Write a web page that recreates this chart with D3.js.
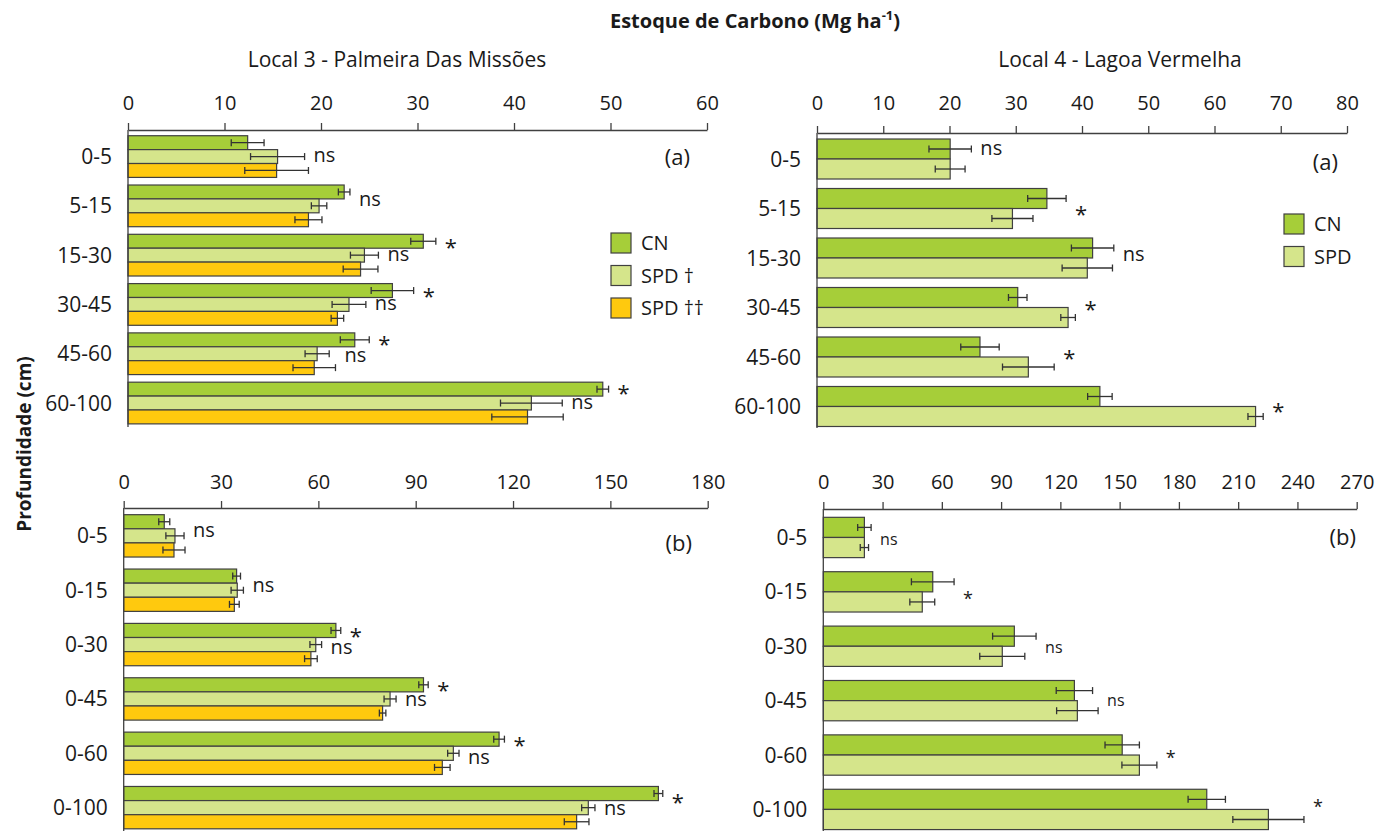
<!DOCTYPE html>
<html>
<head>
<meta charset="utf-8">
<script src="https://cdn.jsdelivr.net/npm/d3@7"></script>
<style>
  body { margin: 0; background: #fff; }
  text { font-family: "Open Sans", sans-serif; fill: #1a1a1a; }
</style>
</head>
<body>
<svg id="chart" width="1381" height="831"></svg>
<script>
// profundidades
const depthA = ["0-5", "5-15", "15-30", "30-45", "45-60", "60-100"];
const depthB = ["0-5", "0-15", "0-30", "0-45", "0-60", "0-100"];

const ticksL3a = [0, 10, 20, 30, 40, 50, 60];
const ticksL4a = [0, 10, 20, 30, 40, 50, 60, 70, 80];
const ticksL3b = [0, 30, 60, 90, 120, 150, 180];
const ticksL4b = [0, 30, 60, 90, 120, 150, 180, 210, 240, 270];

const seriesL3 = ["CN", "SPD \u2020", "SPD \u2020\u2020"];
const seriesL4 = ["CN", "SPD"];
const colors = ["#a6ce39", "#d5e58b", "#ffc90e"];

// Local 3 (a) - por camada
const l3aCN = [12.4, 22.4, 30.6, 27.4, 23.5, 49.2];
const l3aCNerr = [1.7, 0.6, 1.3, 2.2, 1.5, 0.6];
const l3aSPD1 = [15.5, 19.8, 24.5, 22.9, 19.6, 41.8];
const l3aSPD1err = [2.8, 0.8, 1.45, 1.75, 1.25, 3.2];
const l3aSPD2 = [15.4, 18.7, 24.1, 21.7, 19.3, 41.4];
const l3aSPD2err = [3.3, 1.4, 1.8, 0.65, 2.2, 3.7];
const l3aSig = [[[1, "ns"]], [[0.6, "ns"]], [[0, "*"], [1, "ns"]], [[0, "*"], [1, "ns"]], [[-0.1, "*"], [1.2, "ns"]], [[-0.1, "*"], [1, "ns"]]];

// Local 4 (a)
const l4aCN = [20.1, 34.7, 41.6, 30.3, 24.6, 42.7];
const l4aCNerr = [3.2, 2.9, 3.2, 1.4, 2.9, 1.85];
const l4aSPD = [20.1, 29.5, 40.8, 37.9, 31.9, 66.2];
const l4aSPDerr = [2.25, 3.1, 3.8, 1.1, 3.9, 1.15];
const l4aSig = [[[0, "ns"]], [[0.5, "*"]], [[0.35, "ns"]], [[0.3, "*"]], [[0.25, "*"]], [[0.45, "*"]]];

// Local 3 (b) - acumulado
const l3bCN = [12.5, 34.8, 65.4, 92.4, 115.7, 164.8];
const l3bCNerr = [1.7, 1.2, 1.5, 1.45, 1.65, 1.35];
const l3bSPD1 = [15.8, 35.0, 59.2, 82.1, 101.6, 143.2];
const l3bSPD1err = [2.8, 1.9, 1.8, 1.85, 1.75, 2.05];
const l3bSPD2 = [15.5, 34.1, 57.7, 79.8, 98.2, 139.6];
const l3bSPD2err = [3.4, 1.5, 1.95, 1.0, 2.4, 3.8];
const l3bSig = [[[0.7, "ns"]], [[0.75, "ns"]], [[0, "*"], [1.25, "ns"]], [[0, "*"], [1.1, "ns"]], [[0, "*"], [1.35, "ns"]], [[0.2, "*"], [1.1, "ns"]]];

// Local 4 (b)
const l4bCN = [20.8, 55.4, 96.7, 127.1, 151.3, 194.1];
const l4bCNerr = [3.4, 10.8, 11, 9.2, 8.7, 9.45];
const l4bSPD = [20.8, 50.1, 90.6, 128.6, 160.0, 225.3];
const l4bSPDerr = [2.1, 6.3, 11.4, 10.5, 8.85, 18];
const l4bSig = [[[0.65, "ns"]], [[0.6, "*"]], [[0.6, "ns"]], [[0.55, "ns"]], [[0.4, "*"]], [[0.1, "*"]]];

const svg = d3.select("#chart");

const panels = [
  { cats: depthA, ticks: ticksL3a, names: seriesL3,
    values: [l3aCN, l3aSPD1, l3aSPD2], errs: [l3aCNerr, l3aSPD1err, l3aSPD2err], sig: l3aSig,
    xr: [128, 707], axisY: 130, yr: [130, 429.6], pi: 0.154, po: 0.116, yEnd: 427, pad: 13,
    tag: "(a)", tagX: 690, tagY: 157, sigSize: 20,
    legend: { x: 611, y: 233 } },
  { cats: depthA, ticks: ticksL4a, names: seriesL4,
    values: [l4aCN, l4aSPD], errs: [l4aCNerr, l4aSPDerr], sig: l4aSig,
    xr: [817, 1347], axisY: 133, yr: [135, 430.5], pi: 0.192, po: 0.081, yEnd: 428, pad: 16,
    tag: "(a)", tagX: 1338, tagY: 162, sigSize: 20,
    legend: { x: 1284, y: 214 } },
  { cats: depthB, ticks: ticksL3b, names: seriesL3,
    values: [l3bCN, l3bSPD1, l3bSPD2], errs: [l3bCNerr, l3bSPD1err, l3bSPD2err], sig: l3bSig,
    xr: [123.7, 707.7], axisY: 508, yr: [508, 835.5], pi: 0.221, po: 0.123, yEnd: 831, pad: 12.5,
    tag: "(b)", tagX: 692, tagY: 543, sigSize: 20 },
  { cats: depthB, ticks: ticksL4b, names: seriesL4,
    values: [l4bCN, l4bSPD], errs: [l4bCNerr, l4bSPDerr], sig: l4bSig,
    xr: [823.3, 1356.7], axisY: 509, yr: [509, 837.9], pi: 0.259, po: 0.153, yEnd: 831, pad: 13,
    tag: "(b)", tagX: 1356, tagY: 537, sigSize: 16 }
];

function drawPanel(p) {
  const g = svg.append("g");
  const x = d3.scaleLinear().domain([p.ticks[0], p.ticks[p.ticks.length - 1]]).range(p.xr);
  const y = d3.scaleBand().domain(p.cats).range(p.yr).paddingInner(p.pi).paddingOuter(p.po);
  const inner = d3.scaleBand().domain(d3.range(p.names.length)).range([0, y.bandwidth()]);

  const rows = [];
  p.cats.forEach((c, i) => {
    p.values.forEach((vals, s) => rows.push({ cat: c, s: s, v: vals[i], e: p.errs[s][i] }));
  });

  g.selectAll(".bar").data(rows).enter().append("rect")
    .attr("class", "bar")
    .attr("x", x(0))
    .attr("y", d => y(d.cat) + inner(d.s))
    .attr("width", d => x(d.v) - x(0))
    .attr("height", inner.bandwidth())
    .attr("fill", d => colors[d.s])
    .attr("stroke", "#404040")
    .attr("stroke-width", 1.2);

  const eb = g.selectAll(".err").data(rows).enter().append("g")
    .attr("class", "err")
    .attr("transform", d => `translate(0,${y(d.cat) + inner(d.s) + inner.bandwidth() / 2})`)
    .attr("stroke", "#333")
    .attr("stroke-width", 1.3);
  eb.append("line").attr("x1", d => x(d.v - d.e)).attr("x2", d => x(d.v + d.e));
  eb.append("line").attr("x1", d => x(d.v - d.e)).attr("x2", d => x(d.v - d.e)).attr("y1", -3.5).attr("y2", 3.5);
  eb.append("line").attr("x1", d => x(d.v + d.e)).attr("x2", d => x(d.v + d.e)).attr("y1", -3.5).attr("y2", 3.5);

  // eixo superior
  const ax = g.append("g")
    .attr("transform", `translate(0,${p.axisY})`)
    .call(d3.axisTop(x).tickValues(p.ticks).tickSizeInner(7).tickSizeOuter(0).tickPadding(p.pad));
  ax.selectAll("path, line").attr("stroke", "#404040").attr("stroke-width", 1.3);
  ax.selectAll("text").style("font-size", "20px").style("font-family", "'Open Sans', sans-serif").attr("fill", "#1a1a1a");

  g.append("line")
    .attr("x1", x(0)).attr("x2", x(0))
    .attr("y1", p.axisY).attr("y2", p.yEnd)
    .attr("stroke", "#404040").attr("stroke-width", 1.3);

  g.selectAll(".cat").data(p.cats).enter().append("text")
    .attr("x", x(0) - 16)
    .attr("y", d => y(d) + y.bandwidth() / 2)
    .attr("dy", "0.36em")
    .attr("text-anchor", "end")
    .style("font-size", "21px")
    .text(d => d);

  // significancia
  const n = p.names.length;
  const sigRows = [];
  p.cats.forEach((c, i) => {
    p.sig[i].forEach(([r, t]) => {
      const a = Math.max(0, Math.min(n - 1, Math.floor(r)));
      const b = Math.max(0, Math.min(n - 1, Math.ceil(r)));
      const end = Math.max(p.values[a][i] + p.errs[a][i], p.values[b][i] + p.errs[b][i]);
      sigRows.push({ cat: c, r: r, t: t, end: end });
    });
  });
  g.selectAll(".sig").data(sigRows).enter().append("text")
    .attr("x", d => x(d.end) + 9)
    .attr("y", d => y(d.cat) + (d.r + 0.5) * inner.bandwidth())
    .attr("dy", d => d.t === "*" ? "0.62em" : "0.28em")
    .style("font-size", d => (d.t === "*" ? p.sigSize + 2 : p.sigSize) + "px")
    .text(d => d.t);

  g.append("text")
    .attr("x", p.tagX).attr("y", p.tagY).attr("dy", "0.36em")
    .attr("text-anchor", "end")
    .style("font-size", "22px")
    .text(p.tag);

  if (p.legend) {
    const lg = g.append("g").attr("transform", `translate(${p.legend.x},${p.legend.y})`);
    const it = lg.selectAll("g").data(p.names).enter().append("g")
      .attr("transform", (d, i) => `translate(0,${i * 32.5})`);
    it.append("rect").attr("width", 20).attr("height", 20)
      .attr("fill", (d, i) => colors[i]).attr("stroke", "#404040").attr("stroke-width", 1.2);
    it.append("text").attr("x", 30).attr("y", 10).attr("dy", "0.36em")
      .style("font-size", "20px").text(d => d);
  }
}

panels.forEach(drawPanel);

// titulos
const t = svg.append("text").attr("x", 755).attr("y", 28).attr("text-anchor", "middle")
  .style("font-size", "20px").style("font-weight", "bold");
t.append("tspan").text("Estoque de Carbono (Mg ha");
t.append("tspan").attr("dy", -8).style("font-size", "13px").text("-1");
t.append("tspan").attr("dy", 8).text(")");

svg.append("text").attr("x", 397).attr("y", 67).attr("text-anchor", "middle")
  .style("font-size", "21px").text("Local 3 - Palmeira Das Miss\u00f5es");
svg.append("text").attr("x", 1120).attr("y", 67).attr("text-anchor", "middle")
  .style("font-size", "21px").text("Local 4 - Lagoa Vermelha");

svg.append("text").attr("transform", "translate(31,444) rotate(-90)").attr("text-anchor", "middle")
  .style("font-size", "19px").style("font-weight", "bold").text("Profundidade (cm)");
</script>
</body>
</html>
